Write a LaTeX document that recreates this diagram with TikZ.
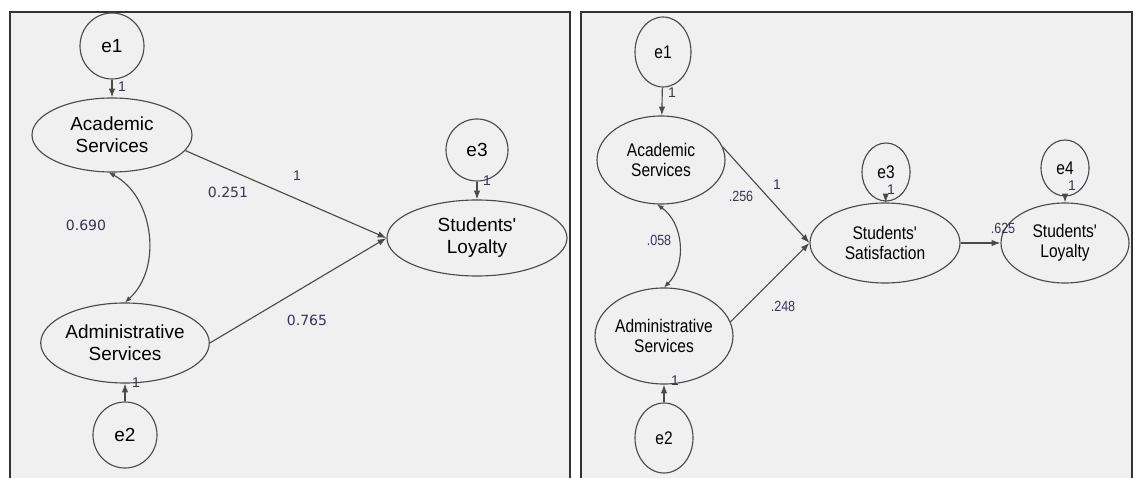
\documentclass[tikz,border=0pt]{standalone}
\usepackage{fontspec}
\setmainfont{Liberation Sans}
\newfontfamily\numfont{DejaVu Sans}
\newfontfamily\narrowfont{Liberation Sans}[FakeStretch=0.85]
\usetikzlibrary{shapes.geometric, arrows.meta}
\definecolor{panelbg}{HTML}{F0F0F0}
\definecolor{linegray}{HTML}{4A4A4A}
\definecolor{framegray}{HTML}{333333}
\definecolor{numcol}{HTML}{3C3450}
\tikzstyle{panel} = [draw=framegray, line width=1.1pt, fill=panelbg]
\tikzstyle{latent} = [ellipse, draw=linegray, line width=0.8pt, inner sep=0pt, text centered, align=center, font=\fontsize{13.5}{15.6}\selectfont]
\tikzstyle{latentn} = [latent, font=\narrowfont\fontsize{13}{14.2}\selectfont]
\tikzstyle{arrow} = [line width=0.8pt, draw=linegray, -{Latex[length=2.2mm,width=1.6mm]}]
\tikzstyle{covar} = [line width=0.8pt, draw=linegray, {Latex[length=1.6mm,width=1.3mm]}-{Latex[length=1.6mm,width=1.3mm]}]
\tikzstyle{wt} = [inner sep=0pt, text=numcol, font=\numfont\fontsize{10}{12}\selectfont]
\tikzstyle{wtn} = [inner sep=0pt, text=numcol, font=\narrowfont\fontsize{10.5}{12}\selectfont]
\tikzstyle{one} = [inner sep=0pt, text=numcol, font=\fontsize{10}{12}\selectfont]

\begin{document}
\begin{tikzpicture}[x=0.25mm, y=-0.25mm]
\useasboundingbox (0,0) rectangle (1136,478);
\fill[white] (0,0) rectangle (1136,478);
\draw[panel] (10,12) rectangle (570,495);
\draw[panel] (581,12) rectangle (1132,495);

% model 1: services -> loyalty
\node (le1) [latent, minimum width=16mm, minimum height=16.5mm] at (112,46) {e1};
\node (lacad) [latent, minimum width=40mm, minimum height=18.5mm] at (112,135) {Academic\\Services};
\node (ladmin) [latent, minimum width=40mm, minimum height=20mm] at (125,343) {Administrative\\Services};
\node (le2) [latent, minimum width=16mm, minimum height=16.5mm] at (125,435) {e2};
\node (le3) [latent, minimum width=15.5mm, minimum height=15.5mm] at (477,150) {e3};
\node (lloyal) [latent, minimum width=45mm, minimum height=19mm] at (477,238) {Students\textquotesingle\\Loyalty};

\draw [arrow] (le1) -- (lacad);
\draw [arrow] (le2) -- (ladmin);
\draw [arrow] (le3) -- (lloyal);
\draw [arrow] (lacad.-12) -- (lloyal.west);
\draw [arrow] (ladmin.east) -- (lloyal.west);
\draw [covar] (lacad.-95) to[bend left=55] (ladmin.north);

\node (lw1) [one] at (122,87) {1};
\node (lw2) [one] at (136,383) {1};
\node (lw3) [one] at (487,181) {1};
\node (lw4) [one] at (297,176) {1};
\node (lacadw) [wt] at (228,192) {0.251};
\node (ladminw) [wt] at (307,320) {0.765};
\node (lcovw) [wt] at (86,225) {0.690};

% model 2: services -> satisfaction -> loyalty
\node (re1) [latentn, minimum width=14mm, minimum height=17.5mm] at (663,52) {e1};
\node (racad) [latentn, minimum width=32mm, minimum height=22mm] at (661,160) {Academic\\Services};
\node (radmin) [latentn, minimum width=32.5mm, minimum height=24mm] at (664,336) {Administrative\\Services};
\node (re2) [latentn, minimum width=14.5mm, minimum height=17.5mm] at (664,438) {e2};
\node (re3) [latentn, minimum width=12mm, minimum height=14.5mm] at (886,172) {e3};
\node (rsat) [latentn, minimum width=37.5mm, minimum height=20mm] at (885,243) {Students\textquotesingle\\Satisfaction};
\node (re4) [latentn, minimum width=12mm, minimum height=14mm] at (1065,168) {e4};
\node (rloyal) [latentn, minimum width=32mm, minimum height=20mm] at (1065,243) {Students\textquotesingle\\Loyalty};

\draw [arrow] (re1) -- (racad);
\draw [arrow] (re2) -- (radmin);
\draw [arrow] (re3) -- (rsat);
\draw [arrow] (re4) -- (rloyal);
\draw [arrow] (racad.12) -- (rsat.west);
\draw [arrow] (radmin.12) -- (rsat.west);
\draw [arrow] (rsat) -- (rloyal);
\draw [covar] (racad.-95) to[bend left=50] (radmin.north);

\node (rw1) [one] at (672,93) {1};
\node (rw2) [one] at (675,381) {1};
\node (rw3) [one] at (891,190) {1};
\node (rw4) [one] at (1072,186) {1};
\node (rw5) [one] at (777,185) {1};
\node (racadw) [wtn] at (741,196) {.256};
\node (radminw) [wtn] at (783,306) {.248};
\node (rcovw) [wtn] at (659,240) {.058};
\node (rsatw) [wtn] at (1003,228) {.625};
\end{tikzpicture}
\end{document}
